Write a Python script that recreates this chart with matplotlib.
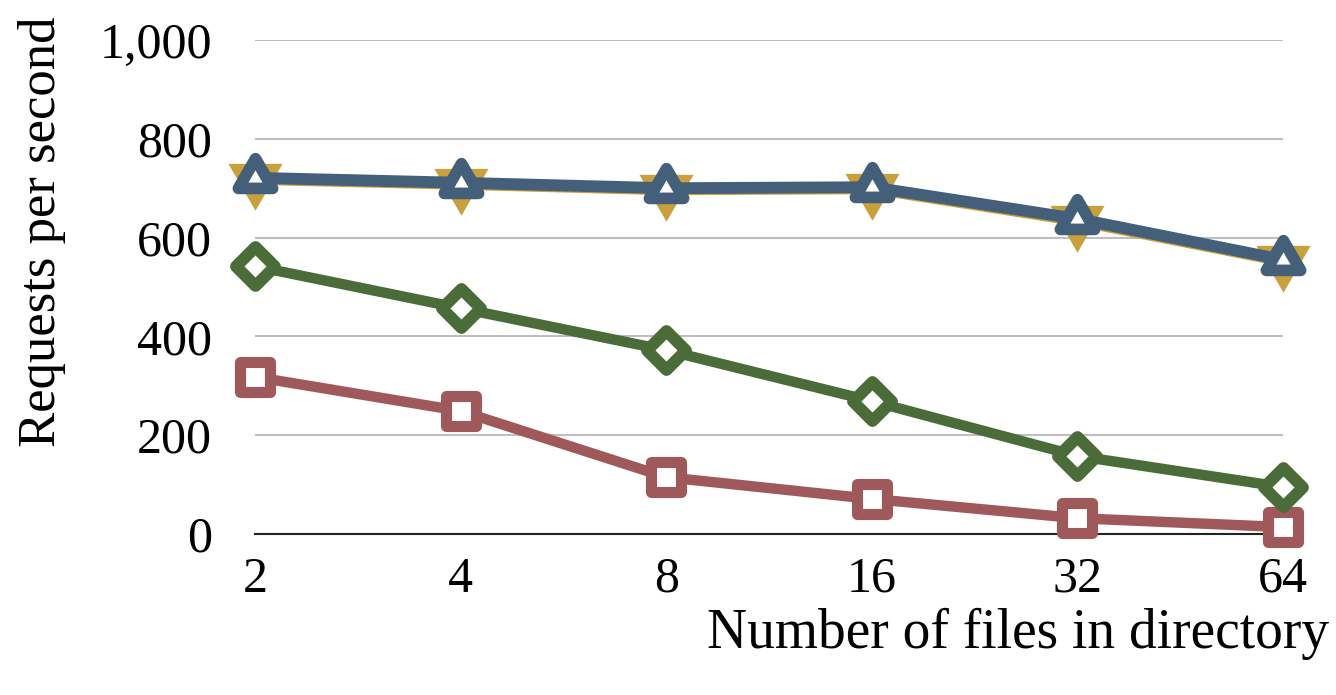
import matplotlib
matplotlib.use("Agg")
import matplotlib.pyplot as plt
from matplotlib.path import Path
from matplotlib.markers import MarkerStyle
import numpy as np

categories = ["2", "4", "8", "16", "32", "64"]
blue_vals = [721, 711, 700, 702, 638, 555]
gold_vals = [718, 708, 697, 699, 634, 552]
green_vals = [542, 457, 372, 269, 158, 95]
red_vals = [318, 249, 115, 71, 32, 14]
yticks = [0, 200, 400, 600, 800, 1000]
ytick_labels = ["0", "200", "400", "600", "800", "1,000"]

C_BLUE = "#445F79"
C_GOLD = "#C9A03C"
C_GREEN = "#4A6C38"
C_RED = "#A0595B"

plt.rcParams['font.family'] = ['Liberation Serif', 'DejaVu Serif']

fig = plt.figure(figsize=(13.36, 6.95), dpi=100)
ax = fig.add_axes([255/1336, (695-534)/695, (1283-255)/1336, 494/695])

x = np.arange(len(categories))

# custom markers centered at centroid
tri_up = Path([(0, 2/3), (-0.577, -1/3), (0.577, -1/3), (0, 2/3)],
              [Path.MOVETO, Path.LINETO, Path.LINETO, Path.CLOSEPOLY])
tri_dn = Path([(0, -2/3), (-0.577, 1/3), (0.577, 1/3), (0, -2/3)],
              [Path.MOVETO, Path.LINETO, Path.LINETO, Path.CLOSEPOLY])
diamond = Path([(0, 1), (1, 0), (0, -1), (-1, 0), (0, 1)],
               [Path.MOVETO, Path.LINETO, Path.LINETO, Path.LINETO, Path.CLOSEPOLY])
square = Path([(-1, -1), (1, -1), (1, 1), (-1, 1), (-1, -1)],
              [Path.MOVETO, Path.LINETO, Path.LINETO, Path.LINETO, Path.CLOSEPOLY])

def ms(p):
    return MarkerStyle(p, joinstyle='miter')

ax.plot(x, red_vals, color=C_RED, lw=7.5, marker=ms(square), ms=21,
        mfc='white', mec=C_RED, mew=8, clip_on=False, zorder=3)
ax.plot(x, green_vals, color=C_GREEN, lw=7.5, marker=ms(diamond), ms=28,
        mfc='white', mec=C_GREEN, mew=8.6, clip_on=False, zorder=4)
ax.plot(x, gold_vals, color=C_GOLD, lw=8, marker=ms(tri_dn), ms=45,
        mfc=C_GOLD, mec=C_GOLD, mew=0, clip_on=False, zorder=5)
ax.plot(x, blue_vals, color=C_BLUE, lw=8.5, marker=ms(tri_up), ms=28.5,
        mfc='white', mec=C_BLUE, mew=8.4, clip_on=False, zorder=6)

ax.set_xlim(0, len(categories) - 1)
ax.set_ylim(0, 1000)
ax.set_xticks(x)
ax.set_xticklabels(categories)
ax.set_yticks(yticks)
ax.set_yticklabels(ytick_labels)
ax.tick_params(axis='both', length=0, labelsize=36, colors='black')
ax.tick_params(axis='y', pad=31)
ax.tick_params(axis='x', pad=16)

ax.grid(axis='y', color='#BFBFBF', lw=1.5)
ax.set_axisbelow(True)
for s in ['top', 'right', 'left']:
    ax.spines[s].set_visible(False)
ax.spines['bottom'].set_color('#222222')
ax.spines['bottom'].set_linewidth(1.5)

fig.text(42/1336, 1 - 232/695, "Requests per second", rotation=90,
         ha='center', va='center', fontsize=38)
fig.text(1329/1336, 1 - 648/695, "Number of files in directory",
         ha='right', va='baseline', fontsize=40)

fig.savefig("out.png", dpi=100)
